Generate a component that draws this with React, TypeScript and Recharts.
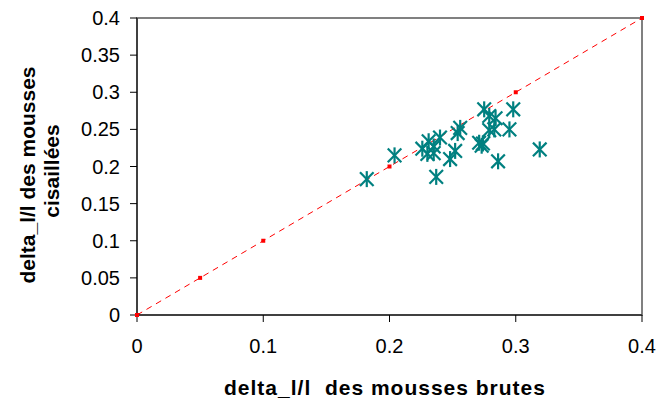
import React from "react";
import {
  ScatterChart,
  Scatter,
  XAxis,
  YAxis,
  ReferenceArea,
} from "recharts";

const xTicks = [0, 0.1, 0.2, 0.3, 0.4];
const yTicks = [0, 0.05, 0.1, 0.15, 0.2, 0.25, 0.3, 0.35, 0.4];

const refX = [0, 0.05, 0.1, 0.2, 0.3, 0.4];
const refY = [0, 0.05, 0.1, 0.2, 0.3, 0.4];

const brutes = [
  0.182, 0.204, 0.226, 0.231, 0.23, 0.235, 0.235, 0.24, 0.237, 0.248, 0.252,
  0.254, 0.256, 0.271, 0.273, 0.274, 0.275, 0.279, 0.284, 0.279, 0.283, 0.286,
  0.295, 0.298, 0.319,
];
const cisaillees = [
  0.183, 0.215, 0.224, 0.234, 0.217, 0.227, 0.218, 0.239, 0.186, 0.21, 0.221,
  0.245, 0.252, 0.232, 0.228, 0.231, 0.277, 0.268, 0.265, 0.249, 0.25, 0.207,
  0.25, 0.277, 0.223,
];

const xTitle = "delta_l/l  des mousses brutes";
const yTitle1 = "delta_l/l des mousses";
const yTitle2 = "cisaillées";

const refData = refX.map((x, i) => ({ x, y: refY[i] }));
const pointData = brutes.map((x, i) => ({ x, y: cisaillees[i] }));

const fmt = (v: number) => String(Number(v.toFixed(2)));

const FONT = "'Liberation Sans', Arial, sans-serif";

const Star = (props: any) => {
  const { cx, cy } = props;
  if (cx == null || cy == null) return null;
  const r = 8;
  const d = r * 0.85;
  return (
    <g stroke="#008080" strokeWidth={2.2}>
      <line x1={cx - d} y1={cy - d} x2={cx + d} y2={cy + d} />
      <line x1={cx - d} y1={cy + d} x2={cx + d} y2={cy - d} />
      <line x1={cx} y1={cy - r} x2={cx} y2={cy + r} />
    </g>
  );
};

const Dot = (props: any) => {
  const { cx, cy } = props;
  if (cx == null || cy == null) return null;
  return <rect x={cx - 2} y={cy - 2} width={4} height={4} fill="#ff0000" />;
};

const YTitle = () => (
  <g>
    <text
      x={27}
      y={175}
      transform="rotate(-90 27 175)"
      textAnchor="middle"
      dominantBaseline="central"
      fontFamily={FONT}
      fontWeight="bold"
      fontSize={21}
      fill="#000"
    >
      {yTitle1}
    </text>
    <text
      x={51}
      y={171}
      transform="rotate(-90 51 171)"
      textAnchor="middle"
      dominantBaseline="central"
      fontFamily={FONT}
      fontWeight="bold"
      fontSize={21}
      fill="#000"
    >
      {yTitle2}
    </text>
  </g>
);

const XTitle = () => (
  <text
    x={385}
    y={395}
    textAnchor="middle"
    fontFamily={FONT}
    fontWeight="bold"
    fontSize={21}
    letterSpacing={1}
    fill="#000"
    style={{ whiteSpace: "pre" }}
  >
    {xTitle}
  </text>
);

export default function App() {
  return (
    <div style={{ position: "absolute", left: 0, top: 0, background: "#fff" }}>
      <ScatterChart
        width={660}
        height={403}
        margin={{ top: 18, right: 18, bottom: 0, left: 0 }}
      >
        <ReferenceArea
          x1={0}
          x2={0.4}
          y1={0}
          y2={0.4}
          fill="none"
          stroke="#808080"
          strokeWidth={2}
          ifOverflow="visible"
        />
        <XAxis
          type="number"
          dataKey="x"
          domain={[0, 0.4]}
          ticks={xTicks}
          tickFormatter={fmt}
          height={88}
          stroke="#000"
          tickSize={7}
          tickMargin={17}
          tick={{ fill: "#000", fontSize: 20, fontFamily: FONT }}
          label={<XTitle />}
        />
        <YAxis
          type="number"
          dataKey="y"
          domain={[0, 0.4]}
          ticks={yTicks}
          tickFormatter={fmt}
          width={137}
          stroke="#000"
          tickSize={7}
          tickMargin={10}
          tick={{ fill: "#000", fontSize: 20, fontFamily: FONT }}
          label={<YTitle />}
        />
        <Scatter
          data={refData}
          line={{ stroke: "#ff0000", strokeWidth: 1, strokeDasharray: "6 5" }}
          lineType="joint"
          shape={<Dot />}
          isAnimationActive={false}
        />
        <Scatter
          data={pointData}
          shape={<Star />}
          isAnimationActive={false}
        />
      </ScatterChart>
    </div>
  );
}
